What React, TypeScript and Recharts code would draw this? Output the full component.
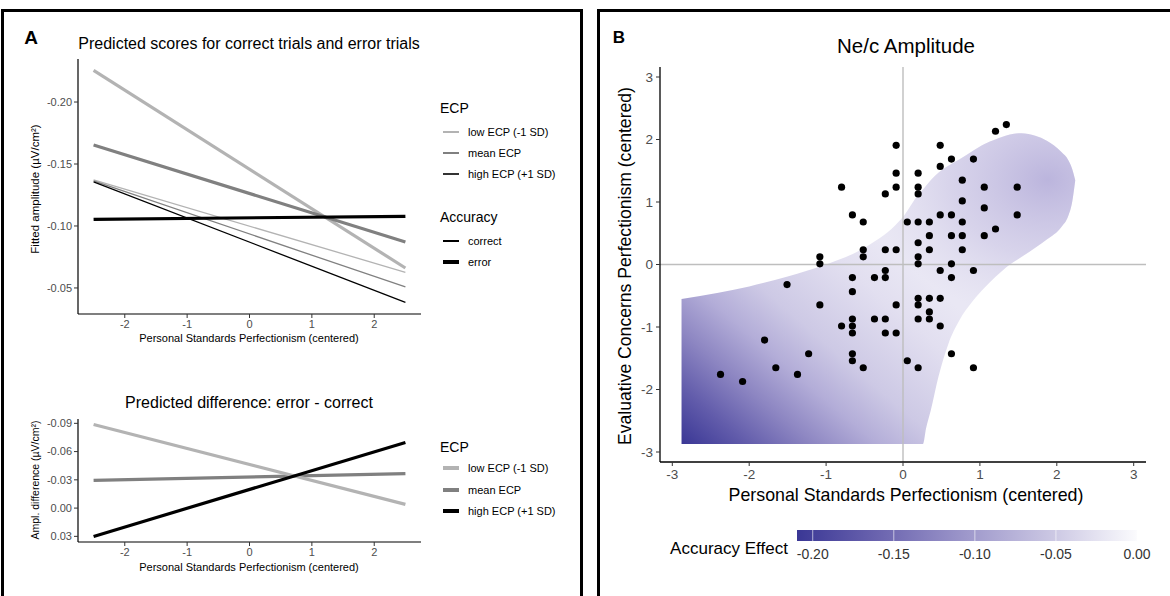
import React from "react";
import {
  ComposedChart,
  LineChart,
  Line,
  XAxis,
  YAxis,
  Scatter,
  Area,
  ReferenceLine,
  ReferenceArea,
} from "recharts";

const FONT = '"Liberation Sans", Arial, Helvetica, sans-serif';

// ---------- Panel A (top): predicted scores ----------
const psEnds = [-2.5, 2.5];
const lowError = [-0.2255, -0.0661];
const meanError = [-0.1653, -0.0871];
const highError = [-0.1054, -0.1078];
const lowCorrect = [-0.1371, -0.0626];
const meanCorrect = [-0.1363, -0.0508];
const highCorrect = [-0.1355, -0.0384];
const amplitudeTicks = [-0.2, -0.15, -0.1, -0.05];
const psTicksA = [-2, -1, 0, 1, 2];

// ---------- Panel A (bottom): predicted difference ----------
const lowDiff = [-0.0887, -0.004];
const meanDiff = [-0.0295, -0.0366];
const highDiff = [0.0301, -0.0697];
const diffTicks = [-0.09, -0.06, -0.03, 0, 0.03];

// ---------- Panel B: scatter of participants ----------
const scatterPS = [
  1.344, 1.203, -0.089, 0.484, 0.63, 0.916, 0.484, -0.089, 0.197, 0.771,
  -0.799, -0.089, 0.197, 1.057, 1.485, -0.23, 0.197, 0.771, 1.057, -0.658,
  0.484, 0.63, 1.485, -0.517, 0.056, 0.197, 0.343, 0.771, 1.203, 0.343,
  0.63, 0.771, 1.057, 0.197, -0.517, -0.23, -0.089, 0.343, 0.771, -1.081,
  -0.517, 0.197, -1.081, 0.197, 0.63, -0.23, 0.484, 0.916, -0.658, -0.371,
  -0.23, 0.63, -1.508, -0.658, 0.197, 0.343, 0.484, -1.081, -0.089, 0.197,
  0.343, -0.658, -0.371, -0.23, 0.197, 0.343, -0.799, -0.658, 0.484, -0.658,
  -0.23, -0.089, -1.8, -1.227, -0.658, 0.63, -0.658, 0.056, -1.654, -0.517,
  0.197, 0.916, -2.373, -1.372, -2.086,
];
const scatterEC = [
  2.239, 2.132, 1.907, 1.907, 1.687, 1.687, 1.569, 1.462, 1.462, 1.35,
  1.237, 1.237, 1.237, 1.237, 1.237, 1.13, 1.13, 1.018, 0.905, 0.793,
  0.793, 0.793, 0.793, 0.68, 0.68, 0.68, 0.68, 0.68, 0.568, 0.461,
  0.461, 0.461, 0.461, 0.348, 0.236, 0.236, 0.236, 0.236, 0.236, 0.123,
  0.123, 0.123, 0.011, 0.011, 0.011, -0.096, -0.096, -0.096, -0.209, -0.209,
  -0.209, -0.209, -0.321, -0.434, -0.541, -0.541, -0.541, -0.647, -0.647, -0.647,
  -0.759, -0.872, -0.872, -0.872, -0.872, -0.872, -0.984, -0.984, -0.984, -1.096,
  -1.096, -1.096, -1.209, -1.428, -1.428, -1.428, -1.54, -1.54, -1.652, -1.652,
  -1.652, -1.652, -1.759, -1.759, -1.872,
];

// Region of significance (outline)
const regionPS = [
  -2.88, -2.4, -2.0, -1.5, -1.0, -0.5, -0.1, 0.0, 0.2, 0.26, 0.3, 0.36, 0.46,
  0.59, 0.73, 0.91, 1.06, 1.2, 1.39, 1.54, 1.72, 1.87, 2.06, 2.15, 2.2, 2.24,
];
const regionLow = [
  -2.87, -2.87, -2.87, -2.87, -2.87, -2.87, -2.87, -2.87, -2.87, -2.87, -2.62,
  -2.34, -1.8, -1.27, -0.9, -0.58, -0.37, -0.2, 0.0, 0.12, 0.27, 0.4, 0.6,
  0.78, 1.0, 1.35,
];
const regionHigh = [
  -0.55, -0.45, -0.35, -0.19, 0.0, 0.27, 0.63, 0.76, 1.12, 1.2, 1.26, 1.35,
  1.47, 1.58, 1.68, 1.82, 1.93, 2.0, 2.08, 2.1, 2.06, 1.98, 1.8, 1.67, 1.53,
  1.35,
];
const axisTicksB = [-3, -2, -1, 0, 1, 2, 3];
const effectTicks = [-0.2, -0.15, -0.1, -0.05, 0];

const LOW_COL = "#b3b3b3";
const MEAN_COL = "#808080";
const HIGH_COL = "#000000";

type TProps = {
  x: number;
  y: number;
  size: number;
  children: React.ReactNode;
  anchor?: "start" | "middle" | "end";
  rotate?: boolean;
  color?: string;
  weight?: number;
};

function T({ x, y, size, children, anchor = "middle", rotate = false, color = "#000", weight = 400 }: TProps) {
  const tx = anchor === "middle" ? "-50%" : anchor === "end" ? "-100%" : "0";
  return (
    <div
      style={{
        position: "absolute",
        left: x,
        top: y,
        transform: rotate ? "translate(-50%,-50%) rotate(-90deg)" : `translate(${tx},-50%)`,
        fontSize: size,
        fontFamily: FONT,
        color,
        fontWeight: weight,
        whiteSpace: "nowrap",
        lineHeight: 1,
      }}
    >
      {children}
    </div>
  );
}

function Key({ x, y, w, color, width = 16 }: { x: number; y: number; w: number; color: string; width?: number }) {
  return (
    <div
      style={{
        position: "absolute",
        left: x,
        top: y - w / 2,
        width,
        height: w,
        background: color,
      }}
    />
  );
}

const tickA = { fill: "#4d4d4d", fontSize: 11, fontFamily: FONT };
const tickB = { fill: "#4d4d4d", fontSize: 13.5, fontFamily: FONT };

export default function App() {
  const topData = psEnds.map((x, i) => ({
    x,
    lowError: lowError[i],
    meanError: meanError[i],
    highError: highError[i],
    lowCorrect: lowCorrect[i],
    meanCorrect: meanCorrect[i],
    highCorrect: highCorrect[i],
  }));
  const diffData = psEnds.map((x, i) => ({
    x,
    low: lowDiff[i],
    mean: meanDiff[i],
    high: highDiff[i],
  }));
  const regionData = regionPS.map((x, i) => ({ x, band: [regionLow[i], regionHigh[i]] }));
  const pointData = scatterPS.map((x, i) => ({ x, y: scatterEC[i] }));
  const cbData = effectTicks.map((v) => ({ v, y: 0.5 }));

  return (
    <div
      style={{
        position: "absolute",
        left: 0,
        top: 0,
        width: 1170,
        height: 596,
        background: "#fff",
        overflow: "hidden",
        fontFamily: FONT,
      }}
    >
      <svg width={0} height={0} style={{ position: "absolute" }}>
        <defs>
          <linearGradient id="regionGrad" x1="0" y1="1" x2="0.6" y2="0.45">
            <stop offset="0" stopColor="#3a3795" />
            <stop offset="0.15" stopColor="#625cab" />
            <stop offset="0.3" stopColor="#8d86c2" />
            <stop offset="0.45" stopColor="#b3add8" />
            <stop offset="0.6" stopColor="#cdc9e5" />
            <stop offset="0.85" stopColor="#e2dff0" />
            <stop offset="1" stopColor="#e9e7f4" />
          </linearGradient>
          <radialGradient id="lobeGrad" cx="0.93" cy="0.15" r="0.45">
            <stop offset="0" stopColor="#aca4d5" stopOpacity={0.75} />
            <stop offset="0.55" stopColor="#bdb6dd" stopOpacity={0.4} />
            <stop offset="1" stopColor="#d0cce6" stopOpacity={0} />
          </radialGradient>
          <linearGradient id="cbGrad" x1="0" y1="0" x2="1" y2="0">
            <stop offset="0" stopColor="#3a3795" />
            <stop offset="0.25" stopColor="#6d66b0" />
            <stop offset="0.5" stopColor="#9e98cb" />
            <stop offset="0.75" stopColor="#cbc7e3" />
            <stop offset="1" stopColor="#fbfbfd" />
          </linearGradient>
        </defs>
      </svg>

      {/* panel frames */}
      <div
        style={{
          position: "absolute",
          left: 1,
          top: 9,
          width: 582,
          height: 640,
          border: "3px solid #000",
          boxSizing: "border-box",
        }}
      />
      <div
        style={{
          position: "absolute",
          left: 597,
          top: 9,
          width: 640,
          height: 640,
          border: "3px solid #000",
          boxSizing: "border-box",
        }}
      />

      {/* ---------- Panel A top ---------- */}
      <div style={{ position: "absolute", left: 0, top: 0 }}>
        <LineChart width={590} height={360} data={topData} margin={{ top: 59, right: 169, bottom: 16, left: 18 }}>
          <XAxis
            type="number"
            dataKey="x"
            domain={[-2.75, 2.75]}
            ticks={psTicksA}
            allowDataOverflow
            height={30}
            tick={tickA}
            tickSize={4}
            tickMargin={2}
            axisLine={{ stroke: "#000", strokeWidth: 1.2 }}
            tickLine={{ stroke: "#333" }}
          />
          <YAxis
            type="number"
            domain={[-0.2347, -0.029]}
            reversed
            ticks={amplitudeTicks}
            allowDataOverflow
            width={60}
            tick={tickA}
            tickSize={4}
            tickMargin={2}
            tickFormatter={(v: number) => v.toFixed(2)}
            axisLine={{ stroke: "#000", strokeWidth: 1.2 }}
            tickLine={{ stroke: "#333" }}
          />
          <Line dataKey="lowCorrect" stroke={LOW_COL} strokeWidth={1.3} dot={false} isAnimationActive={false} />
          <Line dataKey="meanCorrect" stroke={MEAN_COL} strokeWidth={1.3} dot={false} isAnimationActive={false} />
          <Line dataKey="highCorrect" stroke={HIGH_COL} strokeWidth={1.3} dot={false} isAnimationActive={false} />
          <Line dataKey="lowError" stroke={LOW_COL} strokeWidth={3.2} dot={false} isAnimationActive={false} />
          <Line dataKey="meanError" stroke={MEAN_COL} strokeWidth={3.2} dot={false} isAnimationActive={false} />
          <Line dataKey="highError" stroke={HIGH_COL} strokeWidth={3.2} dot={false} isAnimationActive={false} />
        </LineChart>
      </div>

      {/* ---------- Panel A bottom ---------- */}
      <div style={{ position: "absolute", left: 0, top: 360 }}>
        <LineChart width={590} height={236} data={diffData} margin={{ top: 59, right: 169, bottom: 24, left: 18 }}>
          <XAxis
            type="number"
            dataKey="x"
            domain={[-2.75, 2.75]}
            ticks={psTicksA}
            allowDataOverflow
            height={30}
            tick={tickA}
            tickSize={4}
            tickMargin={2}
            axisLine={{ stroke: "#000", strokeWidth: 1.2 }}
            tickLine={{ stroke: "#333" }}
          />
          <YAxis
            type="number"
            domain={[-0.0946, 0.036]}
            reversed
            ticks={diffTicks}
            allowDataOverflow
            width={60}
            tick={tickA}
            tickSize={4}
            tickMargin={2}
            tickFormatter={(v: number) => v.toFixed(2)}
            axisLine={{ stroke: "#000", strokeWidth: 1.2 }}
            tickLine={{ stroke: "#333" }}
          />
          <Line dataKey="mean" stroke={MEAN_COL} strokeWidth={3.2} dot={false} isAnimationActive={false} />
          <Line dataKey="low" stroke={LOW_COL} strokeWidth={3.2} dot={false} isAnimationActive={false} />
          <Line dataKey="high" stroke={HIGH_COL} strokeWidth={3.2} dot={false} isAnimationActive={false} />
        </LineChart>
      </div>

      {/* ---------- Panel B ---------- */}
      <div style={{ position: "absolute", left: 596, top: 0 }}>
        <ComposedChart width={574} height={596} data={regionData} margin={{ top: 67, right: 24, bottom: 94, left: 24 }}>
          <XAxis
            type="number"
            dataKey="x"
            domain={[-3.16, 3.16]}
            ticks={axisTicksB}
            allowDataOverflow
            height={40}
            tick={tickB}
            tickSize={4}
            tickMargin={3}
            axisLine={{ stroke: "#000", strokeWidth: 1.3 }}
            tickLine={{ stroke: "#333" }}
          />
          <YAxis
            type="number"
            dataKey="y"
            domain={[-3.16, 3.16]}
            ticks={axisTicksB}
            allowDataOverflow
            width={40}
            tick={tickB}
            tickSize={4}
            tickMargin={3}
            axisLine={{ stroke: "#000", strokeWidth: 1.3 }}
            tickLine={{ stroke: "#333" }}
          />
          <Area
            dataKey="band"
            type="monotone"
            stroke="none"
            fill="url(#regionGrad)"
            fillOpacity={1}
            dot={false}
            activeDot={false}
            isAnimationActive={false}
          />
          <Area
            dataKey="band"
            type="monotone"
            stroke="none"
            fill="url(#lobeGrad)"
            fillOpacity={1}
            dot={false}
            activeDot={false}
            isAnimationActive={false}
          />
          <ReferenceLine x={0} stroke="#bebebe" strokeWidth={1.4} />
          <ReferenceLine y={0} stroke="#bebebe" strokeWidth={1.4} />
          <Scatter
            data={pointData}
            fill="#000"
            isAnimationActive={false}
            shape={(p: any) => <circle cx={p.cx} cy={p.cy} r={3.6} fill="#000" />}
          />
        </ComposedChart>
      </div>

      {/* colour bar */}
      <div style={{ position: "absolute", left: 790, top: 520 }}>
        <ComposedChart width={372} height={60} data={cbData} margin={{ top: 10, right: 25, bottom: 8, left: 7 }}>
          <XAxis
            type="number"
            dataKey="v"
            domain={[-0.2097, 0]}
            ticks={effectTicks}
            interval={0}
            allowDataOverflow
            height={31}
            axisLine={false}
            tickLine={false}
            tickSize={0}
            tickMargin={8}
            tick={{ fill: "#333", fontSize: 14, fontFamily: FONT }}
            tickFormatter={(v: number) => v.toFixed(2)}
          />
          <YAxis type="number" dataKey="y" domain={[0, 1]} hide />
          <ReferenceArea x1={-0.2097} x2={0} y1={0} y2={1} fill="url(#cbGrad)" fillOpacity={1} stroke="none" />
          {effectTicks.map((v) => (
            <ReferenceLine key={v} x={v} stroke="#ffffff" strokeOpacity={0.6} strokeWidth={1} />
          ))}
        </ComposedChart>
      </div>

      {/* ---------- texts ---------- */}
      <T x={31} y={37} size={19} weight={700}>A</T>
      <T x={619} y={37} size={17} weight={700}>B</T>

      <T x={249} y={44} size={16}>Predicted scores for correct trials and error trials</T>
      <T x={249} y={338} size={11}>Personal Standards Perfectionism (centered)</T>
      <T x={36} y={189} size={11.5} rotate>Fitted amplitude (µV/cm²)</T>

      <T x={440} y={108} size={14} anchor="start">ECP</T>
      <Key x={443} y={132} w={1.4} color={LOW_COL} />
      <T x={468} y={132} size={11} anchor="start">low ECP (-1 SD)</T>
      <Key x={443} y={153} w={1.4} color={MEAN_COL} />
      <T x={468} y={153} size={11} anchor="start">mean ECP</T>
      <Key x={443} y={174} w={1.4} color={"#333"} />
      <T x={468} y={174} size={11} anchor="start">high ECP (+1 SD)</T>
      <T x={440} y={217} size={14} anchor="start">Accuracy</T>
      <Key x={443} y={241} w={1.4} color="#000" />
      <T x={468} y={241} size={11} anchor="start">correct</T>
      <Key x={443} y={262} w={3.2} color="#000" />
      <T x={468} y={262} size={11} anchor="start">error</T>

      <T x={249} y={403} size={16}>Predicted difference: error - correct</T>
      <T x={249} y={567} size={11}>Personal Standards Perfectionism (centered)</T>
      <T x={35} y={480} size={10.5} rotate>Ampl. difference (µV/cm²)</T>

      <T x={440} y={447} size={14} anchor="start">ECP</T>
      <Key x={443} y={468} w={3.2} color={LOW_COL} />
      <T x={468} y={468} size={11} anchor="start">low ECP (-1 SD)</T>
      <Key x={443} y={490} w={3.2} color={MEAN_COL} />
      <T x={468} y={490} size={11} anchor="start">mean ECP</T>
      <Key x={443} y={511} w={3.2} color="#000" />
      <T x={468} y={511} size={11} anchor="start">high ECP (+1 SD)</T>

      <T x={906} y={46} size={20.5}>Ne/c Amplitude</T>
      <T x={906} y={496} size={17.8}>Personal Standards Perfectionism (centered)</T>
      <T x={626} y={266} size={17.6} rotate>Evaluative Concerns Perfectionism (centered)</T>
      <T x={729} y={548} size={17}>Accuracy Effect</T>
    </div>
  );
}
